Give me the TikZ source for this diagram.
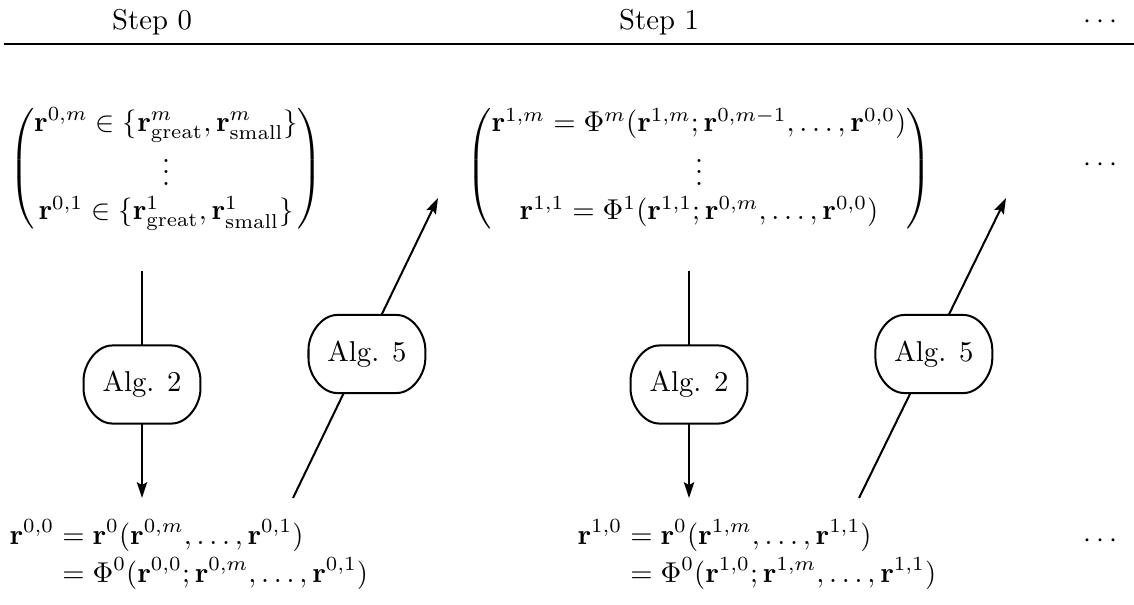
\documentclass[tikz,border=0pt]{standalone}
\usepackage{amsmath}
\usetikzlibrary{arrows.meta}
\setlength{\jot}{0pt}
\newcommand\algoutline[1]{%
  \draw[line width=0.7pt]
    ([xshift=10pt]#1.north west) -- ([xshift=-10pt]#1.north east)
    .. controls ([xshift=-4.48pt]#1.north east) and ([yshift=-6.6pt]#1.north east) .. ([yshift=-12pt]#1.north east)
    -- ([yshift=12pt]#1.south east)
    .. controls ([yshift=6.6pt]#1.south east) and ([xshift=-4.48pt]#1.south east) .. ([xshift=-10pt]#1.south east)
    -- ([xshift=10pt]#1.south west)
    .. controls ([xshift=4.48pt]#1.south west) and ([yshift=6.6pt]#1.south west) .. ([yshift=12pt]#1.south west)
    -- ([yshift=-12pt]#1.north west)
    .. controls ([yshift=-6.6pt]#1.north west) and ([xshift=4.48pt]#1.north west) .. ([xshift=10pt]#1.north west)
    -- cycle;}
\begin{document}
\begin{tikzpicture}[x=0.3484pt,y=-0.3484pt,
  alg/.style={fill=white, minimum width=40pt, minimum height=26.5pt, inner sep=0pt},
  conn/.style={line width=0.7pt},
  arr/.style={conn, -{Stealth[length=5.5pt,width=3.6pt,inset=1pt]}},
  txt/.style={inner sep=0pt}]
\useasboundingbox (0,0) rectangle (1134,604);
% header
\node[txt] (s0) at (152,22) {Step 0};
\node[txt] (s1) at (659,22) {Step 1};
\node[txt] (sd) at (1103,22) {$\cdots$};
\coordinate (rl) at (4,44);
\coordinate (rr) at (1134,44);
\draw[line width=0.8pt] (rl) -- (rr);
% top row
\node[txt] (m0) at (166,169) {$\begin{pmatrix}
  \mathbf{r}^{0,m} \in \{\mathbf{r}^m_{\mathrm{great}}, \mathbf{r}^m_{\mathrm{small}}\}\\
  \vdots\\
  \mathbf{r}^{0,1} \in \{\mathbf{r}^1_{\mathrm{great}}, \mathbf{r}^1_{\mathrm{small}}\}
  \end{pmatrix}$};
\node[txt] (m1) at (699,169) {$\begin{pmatrix}
  \mathbf{r}^{1,m} = \Phi^m(\mathbf{r}^{1,m}; \mathbf{r}^{0,m-1}, \ldots, \mathbf{r}^{0,0})\\
  \vdots\\
  \mathbf{r}^{1,1} = \Phi^1(\mathbf{r}^{1,1}; \mathbf{r}^{0,m}, \ldots, \mathbf{r}^{0,0})
  \end{pmatrix}$};
\node[txt] (md) at (1103,165) {$\cdots$};
% bottom row
\node[txt, anchor=west] (b0) at (9,556) {$\begin{aligned}
  \mathbf{r}^{0,0} &= \mathbf{r}^0(\mathbf{r}^{0,m}, \ldots, \mathbf{r}^{0,1})\\
  &= \Phi^0(\mathbf{r}^{0,0}; \mathbf{r}^{0,m}, \ldots, \mathbf{r}^{0,1})
  \end{aligned}$};
\node[txt, anchor=west] (b1) at (577,556) {$\begin{aligned}
  \mathbf{r}^{1,0} &= \mathbf{r}^0(\mathbf{r}^{1,m}, \ldots, \mathbf{r}^{1,1})\\
  &= \Phi^0(\mathbf{r}^{1,0}; \mathbf{r}^{1,m}, \ldots, \mathbf{r}^{1,1})
  \end{aligned}$};
\node[txt] (bd) at (1103,541) {$\cdots$};
% connectors
\coordinate (a0s) at (142,271);
\coordinate (a0e) at (142,498);
\coordinate (c0s) at (293,498);
\coordinate (c0e) at (438,198);
\coordinate (a1s) at (689,271);
\coordinate (a1e) at (689,498);
\coordinate (c1s) at (859,498);
\coordinate (c1e) at (1006,198);
\draw[arr] (a0s) -- node[alg, pos=0.5] (g0) {Alg. 2} (a0e);
\draw[arr] (c0s) -- node[alg, pos=0.48, xshift=1.5pt] (f0) {Alg. 5} (c0e);
\draw[arr] (a1s) -- node[alg, pos=0.5] (g1) {Alg. 2} (a1e);
\draw[arr] (c1s) -- node[alg, pos=0.48, xshift=1.5pt] (f1) {Alg. 5} (c1e);
\algoutline{g0}
\algoutline{f0}
\algoutline{g1}
\algoutline{f1}
\end{tikzpicture}
\end{document}
